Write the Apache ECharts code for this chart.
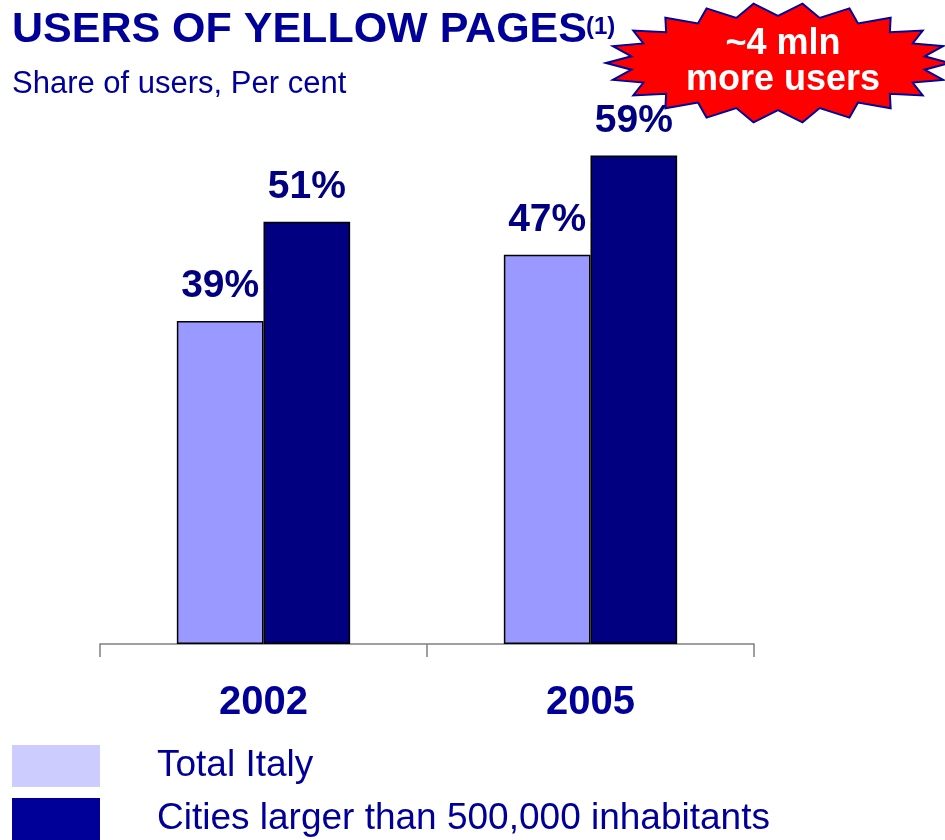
<!DOCTYPE html>
<html>
<head>
<meta charset="utf-8">
<script src="https://cdn.jsdelivr.net/npm/echarts@6/dist/echarts.min.js"></script>
<style>
  html, body { margin: 0; padding: 0; background: #fff; }
  #chart { width: 945px; height: 840px; }
</style>
</head>
<body>
<div id="chart"></div>
<script>
// Share of users of Yellow Pages, per cent
const years = ['2002', '2005'];
const seriesNames = ['Total Italy', 'Cities larger than 500,000 inhabitants'];
const totalItaly = [39, 47];
const bigCities = [51, 59];

const FONT = 'Liberation Sans, Arial, sans-serif';
const NAVY = '#000099';

// Starburst badge outline around a centre point
function starPoints(cx, cy, rxOut, ryOut, rxIn, ryIn, spikes) {
  const pts = [];
  for (let i = 0; i < spikes * 2; i++) {
    const a = Math.PI * i / spikes - Math.PI;
    const out = i % 2 === 0;
    pts.push([cx + Math.cos(a) * (out ? rxOut : rxIn), cy + Math.sin(a) * (out ? ryOut : ryIn)]);
  }
  return pts;
}

const chart = echarts.init(document.getElementById('chart'));
chart.setOption({
  animation: false,
  backgroundColor: '#fff',
  title: [
    {
      text: 'USERS OF YELLOW PAGES',
      left: 12, top: 9, padding: 0,
      textStyle: { fontFamily: FONT, fontSize: 43, fontWeight: 'bold', color: NAVY, lineHeight: 43 }
    },
    {
      text: '(1)',
      left: 586, top: 15, padding: 0,
      textStyle: { fontFamily: FONT, fontSize: 24, fontWeight: 'bold', color: NAVY, lineHeight: 24 }
    },
    {
      text: 'Share of users, Per cent',
      left: 12, top: 69, padding: 0,
      textStyle: { fontFamily: FONT, fontSize: 31, fontWeight: 'normal', color: NAVY, lineHeight: 31 }
    }
  ],
  grid: { left: 100, right: 191, top: 64.4, bottom: 196, containLabel: false },
  xAxis: {
    type: 'category',
    data: years,
    axisLine: { show: true, lineStyle: { color: '#808080', width: 1.5 } },
    axisTick: { show: true, length: 13, lineStyle: { color: '#808080', width: 1.5 } },
    axisLabel: {
      margin: 39, fontFamily: FONT, fontSize: 40, fontWeight: 'bold', color: NAVY, lineHeight: 40
    }
  },
  yAxis: { type: 'value', min: 0, max: 70, show: false, splitLine: { show: false } },
  legend: {
    orient: 'vertical',
    left: 12, top: 745, padding: 0,
    itemWidth: 88, itemHeight: 42, itemGap: 11,
    icon: 'rect',
    selectedMode: false,
    textStyle: { fontFamily: FONT, fontSize: 37, color: NAVY, lineHeight: 42, padding: [0, 0, 0, 52] },
    data: [
      { name: seriesNames[0], itemStyle: { color: '#CCCCFF', borderWidth: 0 } },
      { name: seriesNames[1], itemStyle: { color: NAVY, borderWidth: 0 } }
    ]
  },
  series: [
    {
      name: seriesNames[0], type: 'bar', data: totalItaly,
      barGap: '0%', barCategoryGap: '47%',
      itemStyle: { color: '#9999FF', borderColor: '#000', borderWidth: 1.5 },
      label: {
        show: true, position: 'top', distance: 15, formatter: '{c}%',
        fontFamily: FONT, fontSize: 39, fontWeight: 'bold', color: '#000080', lineHeight: 39
      }
    },
    {
      name: seriesNames[1], type: 'bar', data: bigCities,
      itemStyle: { color: '#000080', borderColor: '#000', borderWidth: 1.5 },
      label: {
        show: true, position: 'top', distance: 15, formatter: '{c}%',
        fontFamily: FONT, fontSize: 39, fontWeight: 'bold', color: '#000080', lineHeight: 39
      }
    }
  ],
  graphic: [
    {
      type: 'polygon',
      shape: { points: starPoints(778, 63, 172, 60, 148, 47, 22) },
      style: { fill: '#FF0000', stroke: NAVY, lineWidth: 2 },
      z: 10
    },
    {
      type: 'text',
      x: 783, y: 62,
      style: {
        text: '~4 mln\nmore users',
        fill: '#fff', font: 'bold 36px ' + FONT, lineHeight: 36,
        align: 'center', verticalAlign: 'middle'
      },
      z: 11
    }
  ]
});
</script>
</body>
</html>
